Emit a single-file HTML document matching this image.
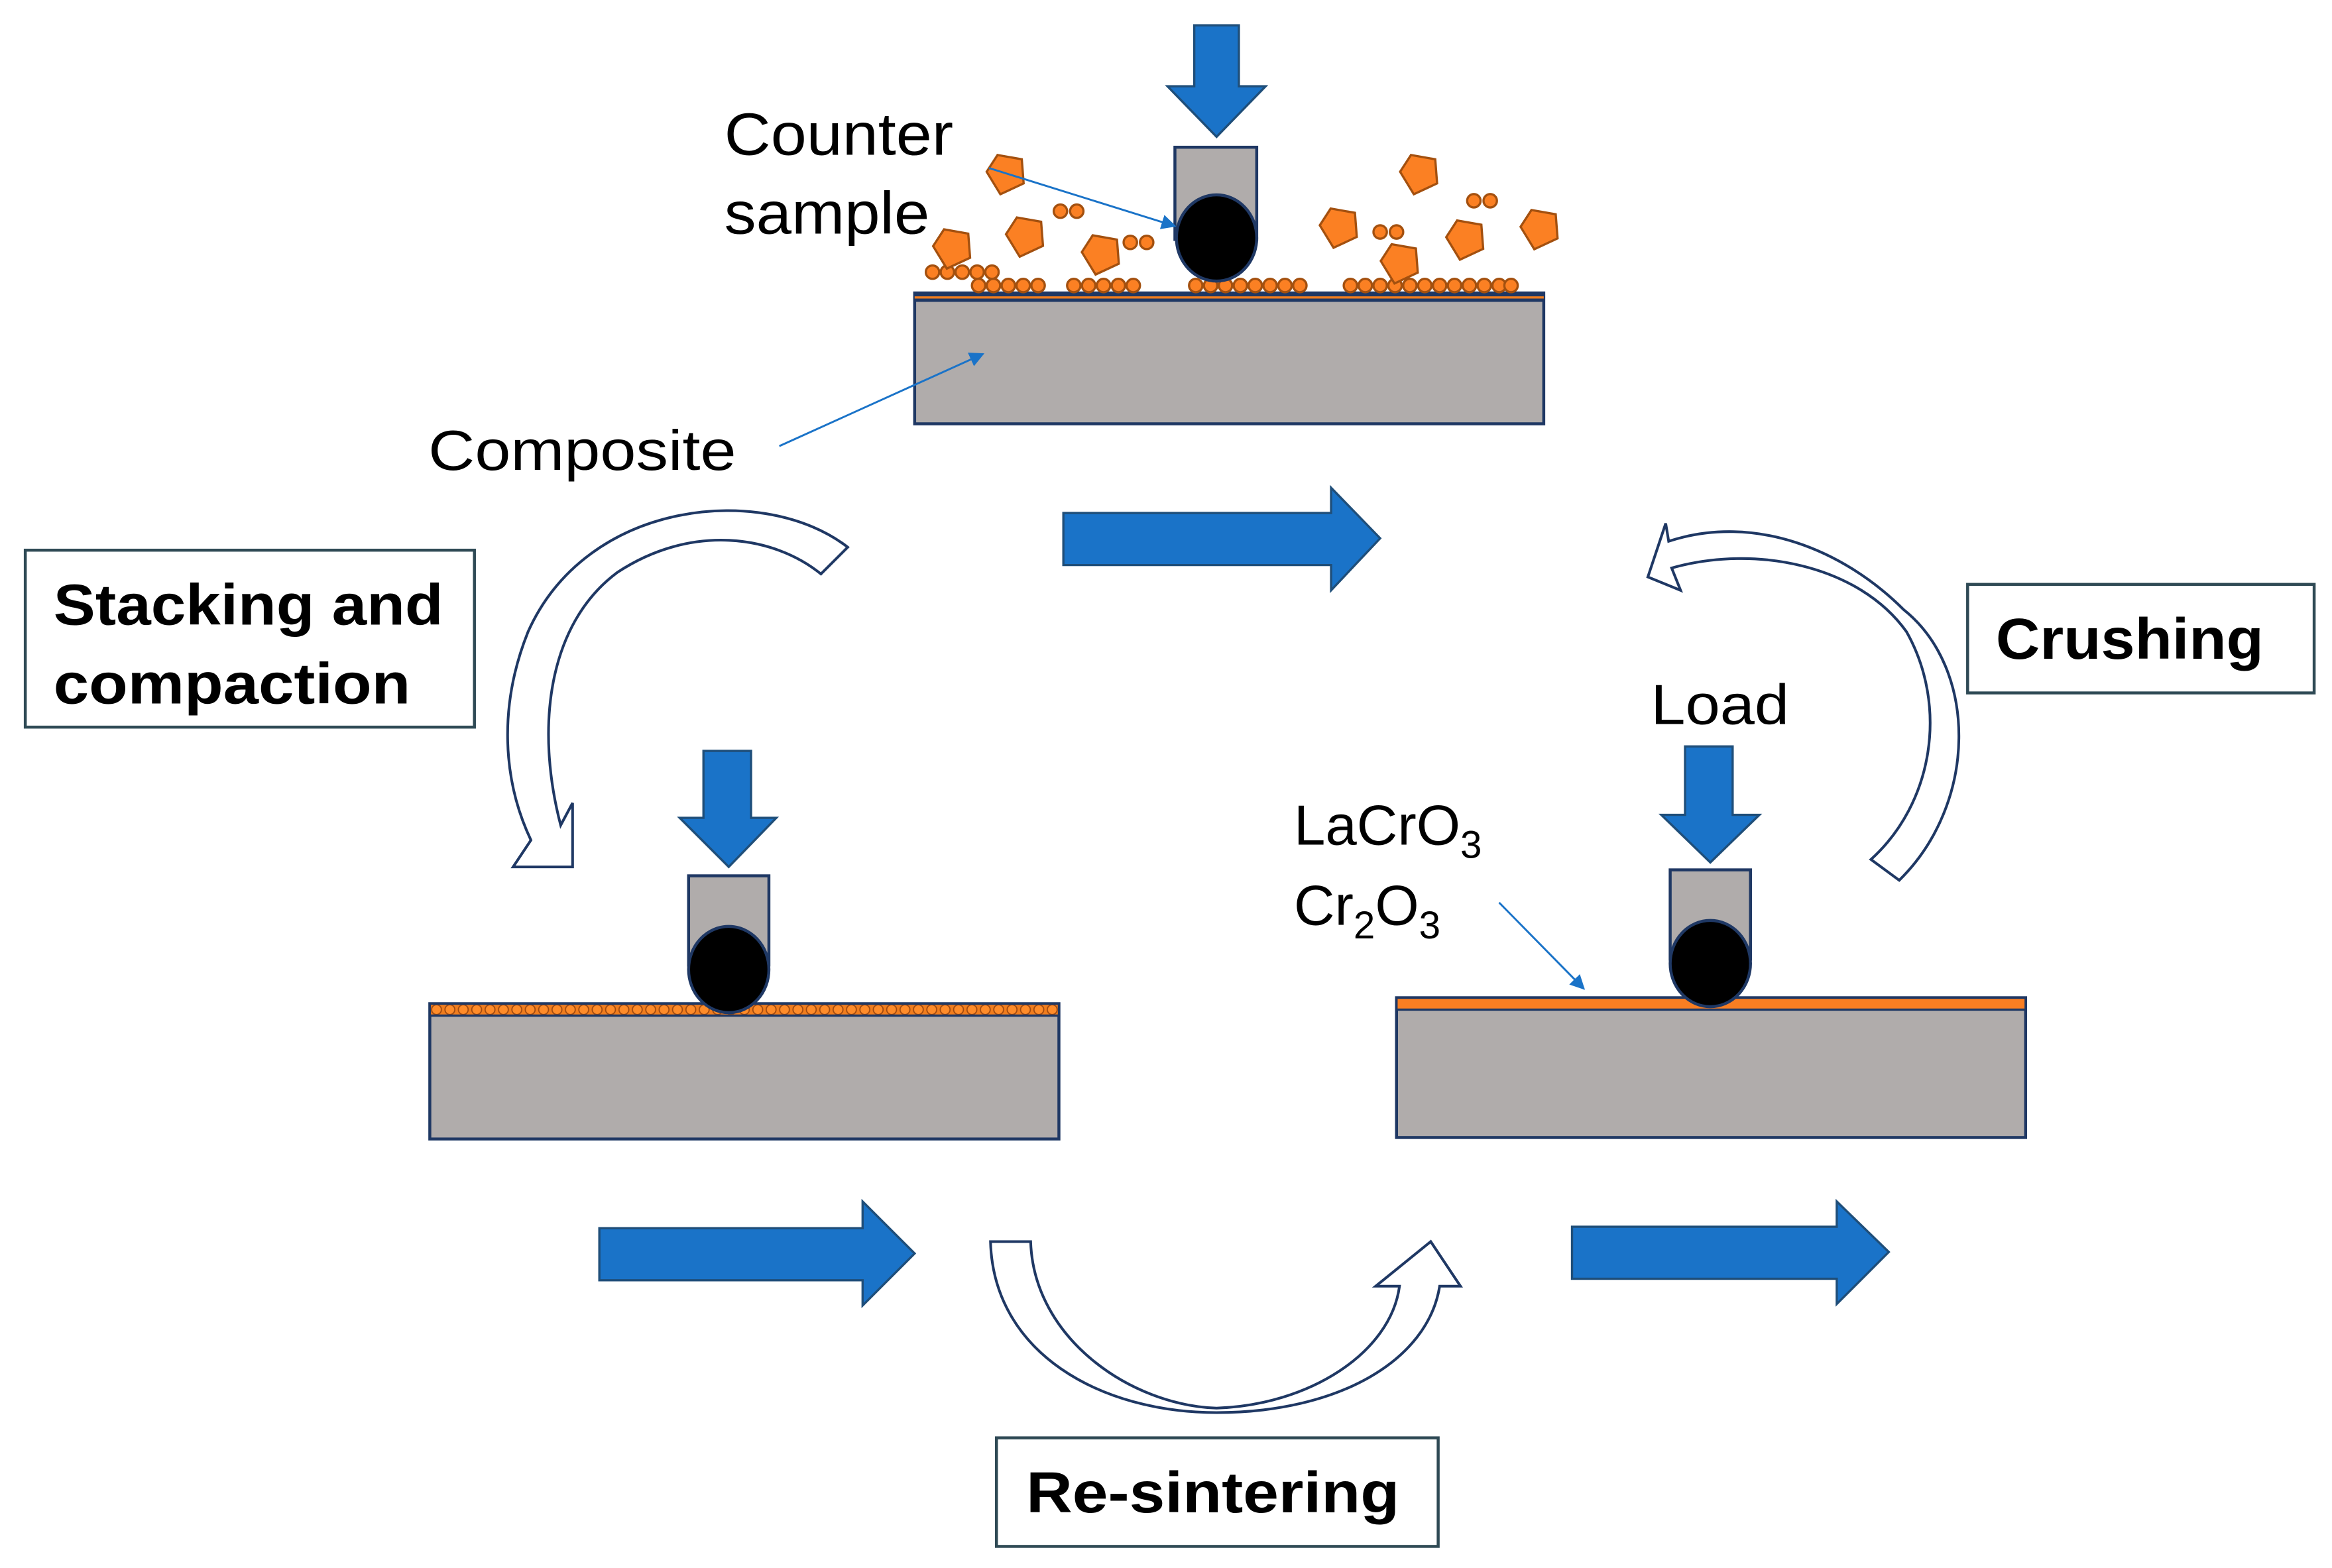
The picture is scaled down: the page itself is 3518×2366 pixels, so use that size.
<!DOCTYPE html>
<html><head><meta charset="utf-8"><style>
html,body{margin:0;padding:0;background:#fff;}
svg{display:block;}
text{font-family:"Liberation Sans",sans-serif;fill:#000;}
</style></head><body>
<svg width="3518" height="2366" viewBox="0 0 1568 1054.5" xmlns="http://www.w3.org/2000/svg">
<defs>
<marker id="ah" markerWidth="10" markerHeight="10" refX="9" refY="5" orient="auto" markerUnits="userSpaceOnUse">
<path d="M0,0 L10,5 L0,10 Z" fill="#1a73c8"/></marker>
<pattern id="dots" x="289" y="675" width="9" height="8" patternUnits="userSpaceOnUse">
<rect width="9" height="8" fill="#f07d1e"/><circle cx="4.5" cy="4" r="3.3" fill="#ff8c2a" stroke="#a04a10" stroke-width="0.8"/></pattern>
<g id="pent"><polygon points="-3,-13 12,-6 9,10 -8,13 -13,-4" fill="#fb8023" stroke="#a3500f" stroke-width="1.5" transform="rotate(-15)"/></g>
</defs>

<!-- TOP -->
<polygon points="803,17 833,17 833,58 851,58 818,92 785,58 803,58" fill="#1a73c8" stroke="#1f4e79" stroke-width="1.5"/>
<rect x="790" y="99" width="55" height="62" fill="#b0acab" stroke="#1f3864" stroke-width="2"/>
<rect x="615" y="197" width="423" height="88" fill="#b0acab" stroke="#1f3864" stroke-width="2"/>
<rect x="615" y="197" width="423" height="6" fill="#1f3864"/>
<line x1="615" y1="200" x2="1038" y2="200" stroke="#f07d1e" stroke-width="1.5"/>
<g fill="#fb8023" stroke="#a3500f" stroke-width="1.5">
<circle cx="627" cy="183" r="4.5"/><circle cx="637" cy="183" r="4.5"/><circle cx="647" cy="183" r="4.5"/><circle cx="657" cy="183" r="4.5"/><circle cx="667" cy="183" r="4.5"/>
<circle cx="658" cy="192" r="4.5"/><circle cx="668" cy="192" r="4.5"/><circle cx="678" cy="192" r="4.5"/><circle cx="688" cy="192" r="4.5"/><circle cx="698" cy="192" r="4.5"/>
<circle cx="722" cy="192" r="4.5"/><circle cx="732" cy="192" r="4.5"/><circle cx="742" cy="192" r="4.5"/><circle cx="752" cy="192" r="4.5"/><circle cx="762" cy="192" r="4.5"/>
<circle cx="804" cy="192" r="4.5"/><circle cx="814" cy="192" r="4.5"/><circle cx="824" cy="192" r="4.5"/><circle cx="834" cy="192" r="4.5"/><circle cx="844" cy="192" r="4.5"/><circle cx="854" cy="192" r="4.5"/><circle cx="864" cy="192" r="4.5"/><circle cx="874" cy="192" r="4.5"/>
<circle cx="908" cy="192" r="4.5"/><circle cx="918" cy="192" r="4.5"/><circle cx="928" cy="192" r="4.5"/><circle cx="938" cy="192" r="4.5"/><circle cx="948" cy="192" r="4.5"/><circle cx="958" cy="192" r="4.5"/><circle cx="968" cy="192" r="4.5"/><circle cx="978" cy="192" r="4.5"/><circle cx="988" cy="192" r="4.5"/><circle cx="998" cy="192" r="4.5"/><circle cx="1008" cy="192" r="4.5"/><circle cx="1016" cy="192" r="4.5"/>
<circle cx="713" cy="142" r="4.5"/><circle cx="724" cy="142" r="4.5"/>
<circle cx="760" cy="163" r="4.5"/><circle cx="771" cy="163" r="4.5"/>
<circle cx="991" cy="135" r="4.5"/><circle cx="1002" cy="135" r="4.5"/>
<circle cx="928" cy="156" r="4.5"/><circle cx="939" cy="156" r="4.5"/>
</g>
<use href="#pent" x="677" y="116"/><use href="#pent" x="690" y="158"/><use href="#pent" x="641" y="166"/>
<use href="#pent" x="741" y="170"/><use href="#pent" x="901" y="152"/><use href="#pent" x="955" y="116"/>
<use href="#pent" x="986" y="160"/><use href="#pent" x="1036" y="153"/><use href="#pent" x="942" y="176"/>
<ellipse cx="818" cy="160" rx="27" ry="29" fill="#000" stroke="#1f3864" stroke-width="2"/>
<text x="487" y="104" font-size="40" textLength="154" lengthAdjust="spacingAndGlyphs">Counter</text>
<text x="487" y="157" font-size="40" textLength="138" lengthAdjust="spacingAndGlyphs">sample</text>
<line x1="665" y1="113" x2="790" y2="152" stroke="#1a73c8" stroke-width="1.3" marker-end="url(#ah)"/>
<text x="288" y="316" font-size="38" textLength="207" lengthAdjust="spacingAndGlyphs">Composite</text>
<line x1="524" y1="300" x2="661" y2="238" stroke="#1a73c8" stroke-width="1.3" marker-end="url(#ah)"/>

<!-- middle right arrow -->
<polygon points="715,345 895,345 895,328 928,362 895,397 895,380 715,380" fill="#1a73c8" stroke="#1f4e79" stroke-width="1.5"/>

<!-- curved arrows -->
<path d="M570,368 C515,325 395,335 355,425 C335,475 338,525 357,565 L345,583 L385,583 L385,540 L377,555 C360,490 368,420 415,385 C465,352 520,360 552,386 Z" fill="#fff" stroke="#1f3864" stroke-width="1.8"/>
<path d="M1258,578 L1277,592 C1330,540 1330,450 1280,410 C1240,370 1180,345 1122,364 L1120,352 L1108,388 L1130,397 L1124,382 C1180,366 1250,380 1282,425 C1310,475 1300,540 1258,578 Z" fill="#fff" stroke="#1f3864" stroke-width="1.8"/>
<path d="M666,835 L693,835 C695,900 760,945 818,947 C880,945 935,910 941,865 L925,865 L962,835 L982,865 L968,865 C960,915 900,950 818,950 C740,950 668,910 666,835 Z" fill="#fff" stroke="#1f3864" stroke-width="1.8"/>

<!-- boxes -->
<rect x="17" y="370" width="302" height="119" fill="#fff" stroke="#2f4a55" stroke-width="2"/>
<text x="36" y="420" font-size="39" font-weight="bold" textLength="262" lengthAdjust="spacingAndGlyphs">Stacking and</text>
<text x="36" y="473" font-size="39" font-weight="bold" textLength="240" lengthAdjust="spacingAndGlyphs">compaction</text>
<rect x="1323" y="393" width="233" height="73" fill="#fff" stroke="#2f4a55" stroke-width="2"/>
<text x="1342" y="443" font-size="39" font-weight="bold" textLength="180" lengthAdjust="spacingAndGlyphs">Crushing</text>
<rect x="670" y="967" width="297" height="73" fill="#fff" stroke="#2f4a55" stroke-width="2"/>
<text x="690" y="1017" font-size="39" font-weight="bold" textLength="251" lengthAdjust="spacingAndGlyphs">Re-sintering</text>

<!-- LEFT -->
<polygon points="473,505 505,505 505,550 522,550 490,583 457,550 473,550" fill="#1a73c8" stroke="#1f4e79" stroke-width="1.5"/>
<rect x="463" y="589" width="54" height="60" fill="#b0acab" stroke="#1f3864" stroke-width="2"/>
<rect x="289" y="675" width="423" height="91" fill="#b0acab" stroke="#1f3864" stroke-width="2"/>
<rect x="289" y="675" width="423" height="8" fill="url(#dots)" stroke="#1f3864" stroke-width="1.5"/>
<ellipse cx="490" cy="652" rx="27" ry="29" fill="#000" stroke="#1f3864" stroke-width="2"/>

<!-- RIGHT -->
<text x="1110" y="487" font-size="38" textLength="93" lengthAdjust="spacingAndGlyphs">Load</text>
<polygon points="1133,502 1165,502 1165,548 1183,548 1150,580 1117,548 1133,548" fill="#1a73c8" stroke="#1f4e79" stroke-width="1.5"/>
<rect x="1123" y="585" width="54" height="60" fill="#b0acab" stroke="#1f3864" stroke-width="2"/>
<rect x="939" y="671" width="423" height="94" fill="#b0acab" stroke="#1f3864" stroke-width="2"/>
<rect x="939" y="671" width="423" height="8" fill="#f97e22" stroke="#1f3864" stroke-width="1.5"/>
<ellipse cx="1150" cy="648" rx="27" ry="29" fill="#000" stroke="#1f3864" stroke-width="2"/>
<text x="870" y="568" font-size="38">LaCrO<tspan font-size="26" dy="9">3</tspan></text>
<text x="870" y="622" font-size="38">Cr<tspan font-size="26" dy="9">2</tspan><tspan dy="-9">O</tspan><tspan font-size="26" dy="9">3</tspan></text>
<line x1="1008" y1="607" x2="1065" y2="665" stroke="#1a73c8" stroke-width="1.3" marker-end="url(#ah)"/>

<!-- bottom arrows -->
<polygon points="403,826 580,826 580,808 615,843 580,878 580,861 403,861" fill="#1a73c8" stroke="#1f4e79" stroke-width="1.5"/>
<polygon points="1057,825 1235,825 1235,808 1270,842 1235,877 1235,860 1057,860" fill="#1a73c8" stroke="#1f4e79" stroke-width="1.5"/>
</svg>
</body></html>
